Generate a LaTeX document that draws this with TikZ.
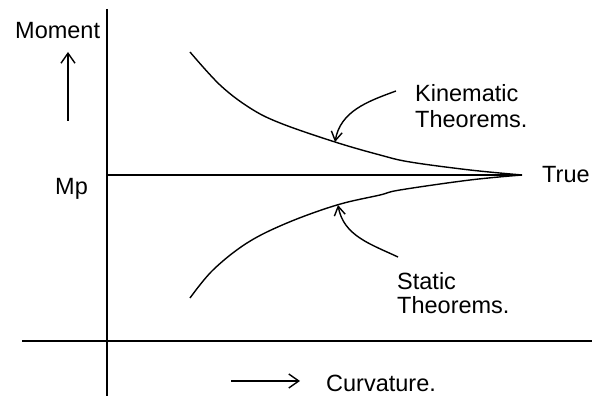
\documentclass[tikz,border=0pt]{standalone}
\usepackage{fontspec}
\setmainfont{Liberation Sans}
\usetikzlibrary{arrows.meta}
\begin{document}
\begin{tikzpicture}[x=1pt,y=1pt,
  axis/.style={line width=1.8pt},
  curve/.style={line width=1.4pt},
  lbl/.style={anchor=base west,inner sep=0pt,font=\fontsize{23.5}{26}\selectfont},
  bigarrow/.style={line width=1.4pt,-{Straight Barb[length=10pt,width=14pt,line width=1.4pt]}},
  smallarrow/.style={line width=1.4pt,-{Straight Barb[length=9pt,width=11pt,line width=1.4pt]}}]
\useasboundingbox (0,0) rectangle (592,406);
% axes
\coordinate (vtop) at (107,397);
\coordinate (vbot) at (107,10);
\coordinate (hl) at (22,65);
\coordinate (hr) at (592,65);
\coordinate (mpl) at (107,231);
\coordinate (tip) at (522,231);
\draw[axis] (vtop) -- (vbot);
\draw[axis] (hl) -- (hr);
\draw[axis] (mpl) -- (tip);
% curves
\draw[curve] plot[smooth,tension=0.6] coordinates {(190,354) (220,321) (250,298) (280,283) (335,264) (380,251) (410,244) (470,236) (522,231)};
\draw[curve] plot[smooth,tension=0.6] coordinates {(190,108) (213,136) (247,163) (287,183) (337,201) (380,211) (400,216) (470,226) (522,231)};
% labels
\node[lbl] (moment) at (15,367) {Moment};
\node[lbl] (mp) at (55,211) {Mp};
\node[lbl] (kin1) at (415,304) {Kinematic};
\node[lbl] (kin2) at (415,278) {Theorems.};
\node[lbl] (true) at (542,223) {True};
\node[lbl] (sta1) at (397,116) {Static};
\node[lbl] (sta2) at (397,92) {Theorems.};
\node[lbl] (curv) at (326,14) {Curvature.};
% arrows
\coordinate (ma) at (68,285);
\coordinate (mb) at (68,354);
\draw[bigarrow] (ma) -- (mb);
\coordinate (ca) at (231,25);
\coordinate (cb) at (300,25);
\draw[bigarrow] (ca) -- (cb);
\coordinate (ka) at (396,315);
\coordinate (kb) at (335,264);
\draw[smallarrow] (ka) to[out=200,in=80] (kb);
\coordinate (sa) at (398,149);
\coordinate (sb) at (338,201);
\draw[smallarrow] (sa) to[out=155,in=280] (sb);
\end{tikzpicture}
\end{document}
